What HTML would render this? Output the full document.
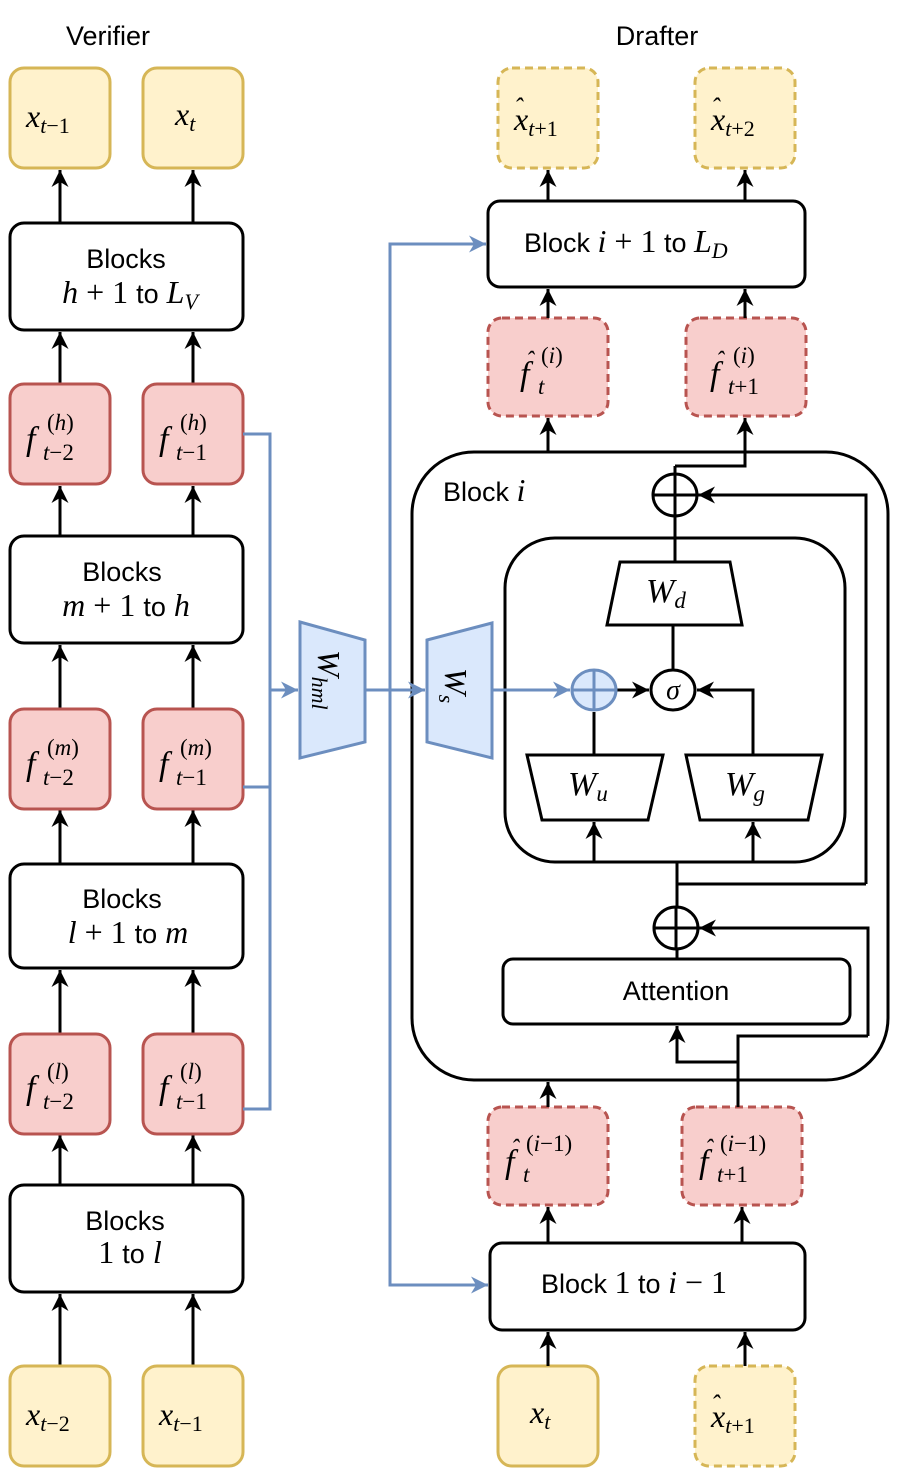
<!DOCTYPE html>
<html><head><meta charset="utf-8"><style>
body{margin:0;background:#fff}
svg{display:block}
.s{font-family:"Liberation Sans",sans-serif;font-size:27px;fill:#000}
.m{font-family:"Liberation Serif",serif;font-style:italic;fill:#000}
.u{font-style:normal}
</style></head><body>
<svg width="897" height="1470" viewBox="0 0 897 1470" xmlns="http://www.w3.org/2000/svg">
<defs>
<marker id="a" markerWidth="17" markerHeight="17" refX="10" refY="5" orient="auto" markerUnits="userSpaceOnUse" viewBox="0 0 10 10"><path d="M0,0 L10,5 L0,10 L3,5z" fill="#000"/></marker>
<marker id="b" markerWidth="17" markerHeight="17" refX="10" refY="5" orient="auto" markerUnits="userSpaceOnUse" viewBox="0 0 10 10"><path d="M0,0 L10,5 L0,10 L3,5z" fill="#6c8ebf"/></marker>
</defs>
<g stroke-width="3">
<text class="s" x="108" y="45" text-anchor="middle" stroke="none" font-size="28">Verifier</text>
<text class="s" x="657" y="45" text-anchor="middle" stroke="none" font-size="28">Drafter</text>

<g stroke="#000" fill="none" marker-end="url(#a)">
<line x1="60" y1="223" x2="60" y2="170"/><line x1="193" y1="223" x2="193" y2="170"/>
<line x1="60" y1="384" x2="60" y2="332"/><line x1="193" y1="384" x2="193" y2="332"/>
<line x1="60" y1="536" x2="60" y2="486"/><line x1="193" y1="536" x2="193" y2="486"/>
<line x1="60" y1="709" x2="60" y2="645"/><line x1="193" y1="709" x2="193" y2="645"/>
<line x1="60" y1="864" x2="60" y2="810"/><line x1="193" y1="864" x2="193" y2="810"/>
<line x1="60" y1="1034" x2="60" y2="970"/><line x1="193" y1="1034" x2="193" y2="970"/>
<line x1="60" y1="1185" x2="60" y2="1135"/><line x1="193" y1="1185" x2="193" y2="1135"/>
<line x1="60" y1="1366" x2="60" y2="1294"/><line x1="193" y1="1366" x2="193" y2="1294"/>
</g>

<g fill="#fff2cc" stroke="#d6b656">
<rect x="10" y="68" width="100" height="100" rx="14"/><rect x="143" y="68" width="100" height="100" rx="14"/>
<rect x="10" y="1366" width="100" height="100" rx="14"/><rect x="143" y="1366" width="100" height="100" rx="14"/>
</g>
<g fill="#f8cecc" stroke="#b85450">
<rect x="10" y="384" width="100" height="100" rx="14"/><rect x="143" y="384" width="100" height="100" rx="14"/>
<rect x="10" y="709" width="100" height="100" rx="14"/><rect x="143" y="709" width="100" height="100" rx="14"/>
<rect x="10" y="1034" width="100" height="100" rx="14"/><rect x="143" y="1034" width="100" height="100" rx="14"/>
</g>
<g fill="#fff" stroke="#000">
<rect x="10" y="223" width="233" height="107" rx="14"/>
<rect x="10" y="536" width="233" height="107" rx="14"/>
<rect x="10" y="864" width="233" height="104" rx="14"/>
<rect x="10" y="1185" width="233" height="107" rx="14"/>
</g>

<g stroke="none">
<text class="s" x="126" y="268" text-anchor="middle">Blocks</text>
<text class="m" x="130" y="303" text-anchor="middle" font-size="32">h <tspan class="u">+ 1</tspan> <tspan class="s" style="font-style:normal" font-size="27">to</tspan> L<tspan dy="6" font-size="22">V</tspan></text>
<text class="s" x="122" y="581" text-anchor="middle">Blocks</text>
<text class="m" x="126" y="616" text-anchor="middle" font-size="32">m <tspan class="u">+ 1</tspan> <tspan class="s" style="font-style:normal" font-size="27">to</tspan> h</text>
<text class="s" x="122" y="908" text-anchor="middle">Blocks</text>
<text class="m" x="128" y="943" text-anchor="middle" font-size="32">l <tspan class="u">+ 1</tspan> <tspan class="s" style="font-style:normal" font-size="27">to</tspan> m</text>
<text class="s" x="125" y="1230" text-anchor="middle">Blocks</text>
<text class="m" x="130" y="1263" text-anchor="middle" font-size="32"><tspan class="u">1</tspan> <tspan class="s" style="font-style:normal" font-size="27">to</tspan> l</text>

<text class="m" x="26" y="127" font-size="32">x<tspan font-size="22" dy="6">t<tspan class="u">−1</tspan></tspan></text>
<text class="m" x="175" y="125" font-size="32">x<tspan font-size="22" dy="6">t</tspan></text>
<text class="m" x="26" y="1425" font-size="32">x<tspan font-size="22" dy="6">t<tspan class="u">−2</tspan></tspan></text>
<text class="m" x="159" y="1425" font-size="32">x<tspan font-size="22" dy="6">t<tspan class="u">−1</tspan></tspan></text>

<g font-size="34">
<text class="m" x="26" y="450">f</text><text class="m" x="47" y="430" font-size="23"><tspan class="u">(</tspan>h<tspan class="u">)</tspan></text><text class="m" x="43" y="460" font-size="23">t<tspan class="u">−2</tspan></text>
<text class="m" x="159" y="450">f</text><text class="m" x="180" y="430" font-size="23"><tspan class="u">(</tspan>h<tspan class="u">)</tspan></text><text class="m" x="176" y="460" font-size="23">t<tspan class="u">−1</tspan></text>
<text class="m" x="26" y="775">f</text><text class="m" x="47" y="755" font-size="23"><tspan class="u">(</tspan>m<tspan class="u">)</tspan></text><text class="m" x="43" y="785" font-size="23">t<tspan class="u">−2</tspan></text>
<text class="m" x="159" y="775">f</text><text class="m" x="180" y="755" font-size="23"><tspan class="u">(</tspan>m<tspan class="u">)</tspan></text><text class="m" x="176" y="785" font-size="23">t<tspan class="u">−1</tspan></text>
<text class="m" x="26" y="1099">f</text><text class="m" x="47" y="1079" font-size="23"><tspan class="u">(</tspan>l<tspan class="u">)</tspan></text><text class="m" x="43" y="1109" font-size="23">t<tspan class="u">−2</tspan></text>
<text class="m" x="159" y="1099">f</text><text class="m" x="180" y="1079" font-size="23"><tspan class="u">(</tspan>l<tspan class="u">)</tspan></text><text class="m" x="176" y="1109" font-size="23">t<tspan class="u">−1</tspan></text>
</g>
</g>

<g stroke="#6c8ebf" fill="none">
<polyline points="243,434 270,434 270,1109 243,1109"/>
<line x1="243" y1="787" x2="270" y2="787"/>
<line x1="270" y1="690" x2="298" y2="690" marker-end="url(#b)"/>
<polyline points="486,244 390,244 390,1285 488,1285"/>
<line x1="470" y1="244" x2="486" y2="244" marker-end="url(#b)"/>
<line x1="472" y1="1285" x2="488" y2="1285" marker-end="url(#b)"/>
</g>
<polygon points="300,622 365,640 365,742 300,758" fill="#dae8fc" stroke="#6c8ebf"/>
<text class="m" transform="translate(318,650) rotate(90)" font-size="32" stroke="none">W<tspan font-size="22" dy="6">hml</tspan></text>

<g fill="#fff2cc" stroke="#d6b656">
<rect x="498" y="68" width="100" height="100" rx="14" stroke-dasharray="8,5"/>
<rect x="695" y="68" width="100" height="100" rx="14" stroke-dasharray="8,5"/>
<rect x="498" y="1366" width="100" height="100" rx="14"/>
<rect x="695" y="1366" width="100" height="100" rx="14" stroke-dasharray="8,5"/>
</g>
<g fill="#f8cecc" stroke="#b85450" stroke-dasharray="8,5">
<rect x="488" y="318" width="120" height="98" rx="14"/>
<rect x="686" y="318" width="120" height="98" rx="14"/>
<rect x="488" y="1107" width="120" height="98" rx="14"/>
<rect x="682" y="1107" width="120" height="98" rx="14"/>
</g>
<g fill="#fff" stroke="#000">
<rect x="488" y="201" width="317" height="86" rx="12"/>
<rect x="490" y="1243" width="315" height="87" rx="12"/>
<rect x="412" y="452" width="476" height="628" rx="62"/>
<rect x="505" y="538" width="340" height="324" rx="50"/>
<rect x="503" y="959" width="347" height="65" rx="10"/>
<polygon points="620,562 730,562 742,625 607,625"/>
<polygon points="527,755 663,755 648,820 542,820"/>
<polygon points="686,755 822,755 808,820 700,820"/>
</g>

<!-- blue W_s on top -->
<g stroke="#6c8ebf" fill="none">
<line x1="365" y1="690" x2="425" y2="690" marker-end="url(#b)"/>
<line x1="492" y1="690" x2="570" y2="690" marker-end="url(#b)"/>
</g>
<polygon points="427,640 492,623 492,758 427,742" fill="#dae8fc" stroke="#6c8ebf"/>
<text class="m" transform="translate(445,668) rotate(90)" font-size="32" stroke="none">W<tspan font-size="22" dy="6">s</tspan></text>

<g stroke="#000" fill="none">
<g marker-end="url(#a)">
<line x1="548" y1="201" x2="548" y2="170"/><line x1="745" y1="201" x2="745" y2="170"/>
<line x1="548" y1="318" x2="548" y2="289"/><line x1="745" y1="318" x2="745" y2="289"/>
<line x1="548" y1="452" x2="548" y2="418"/>
<line x1="548" y1="1107" x2="548" y2="1082"/>
<line x1="548" y1="1243" x2="548" y2="1207"/><line x1="742" y1="1243" x2="742" y2="1207"/>
<line x1="548" y1="1366" x2="548" y2="1332"/><line x1="745" y1="1366" x2="745" y2="1332"/>
<polyline points="675,466 745,466 745,418"/>
<polyline points="866,884 866,495 698,495"/>
<polyline points="868,1036 868,928 699,928"/>
<polyline points="738,1062 677,1062 677,1026"/>
<line x1="616" y1="690" x2="649" y2="690"/>
<polyline points="753,755 753,690 697,690"/>
<line x1="594" y1="862" x2="594" y2="822"/>
<line x1="753" y1="862" x2="753" y2="822"/>
</g>
<line x1="675" y1="562" x2="675" y2="466"/>
<line x1="673" y1="625" x2="673" y2="670"/>
<line x1="594" y1="755" x2="594" y2="712"/>
<polyline points="866,884 677,884"/>
<line x1="677" y1="862" x2="677" y2="959"/>
<polyline points="868,1036 738,1036 738,1107"/>
</g>
<g stroke="#000" fill="#fff">
<ellipse cx="675" cy="495" rx="22" ry="21"/>
<ellipse cx="676" cy="928" rx="22" ry="21"/>
<ellipse cx="673" cy="690" rx="22" ry="20"/>
</g>
<g stroke="#000"><line x1="653" y1="495" x2="697" y2="495"/><line x1="675" y1="474" x2="675" y2="516"/>
<line x1="654" y1="928" x2="698" y2="928"/><line x1="676" y1="907" x2="676" y2="949"/></g>
<ellipse cx="594" cy="690" rx="22" ry="20" fill="#dae8fc" stroke="#6c8ebf"/>
<g stroke="#6c8ebf"><line x1="572" y1="690" x2="616" y2="690"/><line x1="594" y1="670" x2="594" y2="710"/></g>

<g stroke="none">
<text class="s" x="443" y="501">Block <tspan class="m" font-size="32">i</tspan></text>
<text class="s" x="524" y="252">Block <tspan class="m" font-size="32">i <tspan class="u">+ 1</tspan></tspan> to <tspan class="m" font-size="32">L<tspan font-size="22" dy="6">D</tspan></tspan></text>
<text class="s" x="541" y="1293">Block <tspan class="m" font-size="32"><tspan class="u">1</tspan></tspan> to <tspan class="m" font-size="32">i <tspan class="u">− 1</tspan></tspan></text>
<text class="s" x="676" y="1000" text-anchor="middle">Attention</text>
<text class="m" x="646" y="602" font-size="34">W<tspan font-size="23" dy="6">d</tspan></text>
<text class="m" x="568" y="795" font-size="34">W<tspan font-size="23" dy="6">u</tspan></text>
<text class="m" x="725" y="795" font-size="34">W<tspan font-size="23" dy="6">g</tspan></text>
<text class="m" x="673" y="699" font-size="28" text-anchor="middle">σ</text>

<text class="m" x="514" y="130" font-size="32">x<tspan font-size="22" dy="6">t<tspan class="u">+1</tspan></tspan></text>
<text class="m" x="514" y="116" font-size="26" class="u">ˆ</text>
<text class="m" x="711" y="130" font-size="32">x<tspan font-size="22" dy="6">t<tspan class="u">+2</tspan></tspan></text>
<text class="m" x="711" y="116" font-size="26">ˆ</text>
<text class="m" x="711" y="1427" font-size="32">x<tspan font-size="22" dy="6">t<tspan class="u">+1</tspan></tspan></text>
<text class="m" x="711" y="1413" font-size="26">ˆ</text>
<text class="m" x="530" y="1423" font-size="32">x<tspan font-size="22" dy="6">t</tspan></text>

<text class="m" x="520" y="385" font-size="34">f</text><text class="m" x="526" y="368" font-size="24">ˆ</text><text class="m" x="541" y="363" font-size="23"><tspan class="u">(</tspan>i<tspan class="u">)</tspan></text><text class="m" x="538" y="394" font-size="23">t</text>
<text class="m" x="710" y="385" font-size="34">f</text><text class="m" x="716" y="368" font-size="24">ˆ</text><text class="m" x="733" y="363" font-size="23"><tspan class="u">(</tspan>i<tspan class="u">)</tspan></text><text class="m" x="728" y="394" font-size="23">t<tspan class="u">+1</tspan></text>
<text class="m" x="505" y="1173" font-size="34">f</text><text class="m" x="511" y="1156" font-size="24">ˆ</text><text class="m" x="526" y="1151" font-size="23"><tspan class="u">(</tspan>i<tspan class="u">−1)</tspan></text><text class="m" x="523" y="1182" font-size="23">t</text>
<text class="m" x="699" y="1173" font-size="34">f</text><text class="m" x="705" y="1156" font-size="24">ˆ</text><text class="m" x="720" y="1151" font-size="23"><tspan class="u">(</tspan>i<tspan class="u">−1)</tspan></text><text class="m" x="717" y="1182" font-size="23">t<tspan class="u">+1</tspan></text>
</g>
</g>
</svg>
</body></html>
